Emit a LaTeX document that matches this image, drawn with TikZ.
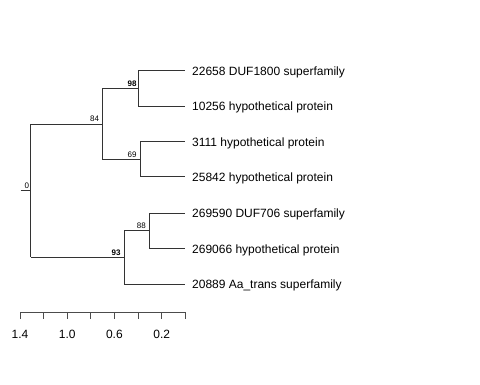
\documentclass[tikz,border=0pt]{standalone}
\usepackage{fontspec}
\setmainfont{Liberation Sans}
\begin{document}
\begin{tikzpicture}[x=1pt,y=-1pt,
  br/.style={draw=black!80,line width=0.8pt},
  leaf/.style={anchor=west,font=\fontsize{12}{14}\selectfont,inner sep=0pt},
  bs/.style={anchor=south east,font=\fontsize{8}{9}\selectfont,inner sep=0pt},
  tk/.style={anchor=base,font=\fontsize{12}{14}\selectfont,inner sep=0pt}]
\useasboundingbox (0,0) rectangle (480,384);
% internal nodes
\coordinate (r0) at (20.7,190.7);
\coordinate (r) at (30.7,190.7);
\coordinate (n84) at (102.3,124);
\coordinate (n98) at (138.3,88.3);
\coordinate (n69) at (140,159.3);
\coordinate (n93) at (124.3,257.3);
\coordinate (n88) at (149,230.7);
% leaf tips
\coordinate (l1) at (185,70.7);
\coordinate (l2) at (185,106);
\coordinate (l3) at (185,141.7);
\coordinate (l4) at (185,176.7);
\coordinate (l5) at (185,213.3);
\coordinate (l6) at (185,248.7);
\coordinate (l7) at (185,284.3);
% branches
\draw[br] (r0) -- (r);
\draw[br] (r |- n84) -- (r |- n93);
\draw[br] (r |- n84) -- (n84);
\draw[br] (r |- n93) -- (n93);
\draw[br] (n84 |- n98) -- (n84 |- n69);
\draw[br] (n84 |- n98) -- (n98);
\draw[br] (n84 |- n69) -- (n69);
\draw[br] (n98 |- l1) -- (n98 |- l2);
\draw[br] (n98 |- l1) -- (l1);
\draw[br] (n98 |- l2) -- (l2);
\draw[br] (n69 |- l3) -- (n69 |- l4);
\draw[br] (n69 |- l3) -- (l3);
\draw[br] (n69 |- l4) -- (l4);
\draw[br] (n93 |- n88) -- (n93 |- l7);
\draw[br] (n93 |- n88) -- (n88);
\draw[br] (n93 |- l7) -- (l7);
\draw[br] (n88 |- l5) -- (n88 |- l6);
\draw[br] (n88 |- l5) -- (l5);
\draw[br] (n88 |- l6) -- (l6);
% leaf labels
\node[leaf] (t1) at (192,72) {22658 DUF1800 superfamily};
\node[leaf] (t2) at (192,107) {10256 hypothetical protein};
\node[leaf] (t3) at (192,143) {3111 hypothetical protein};
\node[leaf] (t4) at (192,178) {25842 hypothetical protein};
\node[leaf] (t5) at (192,214.5) {269590 DUF706 superfamily};
\node[leaf] (t6) at (192,250) {269066 hypothetical protein};
\node[leaf] (t7) at (192,285.5) {20889 Aa\_trans superfamily};
% support values
\node[bs] (b0) at (29.3,188.7) {0};
\node[bs] (b84) at (99.3,122) {84};
\node[bs] (b98) at (136.7,86.3) {\bfseries 98};
\node[bs] (b69) at (136.7,157.3) {69};
\node[bs] (b93) at (120.7,255.3) {\bfseries 93};
\node[bs] (b88) at (146,228.7) {88};
% scale bar
\coordinate (s0) at (20,312.3);
\coordinate (s1) at (185.3,312.3);
\draw[draw=black!70,line width=0.8pt] (s0) -- (s1);
\foreach \x in {20,43.6,67.2,90.8,114.4,138,161.7,185.3}
  \draw[draw=black!70,line width=0.8pt] (\x,312.3) -- (\x,318.5);
\node[tk] (k1) at (20,338.3) {1.4};
\node[tk] (k2) at (67.2,338.3) {1.0};
\node[tk] (k3) at (114.4,338.3) {0.6};
\node[tk] (k4) at (161.7,338.3) {0.2};
\end{tikzpicture}
\end{document}
